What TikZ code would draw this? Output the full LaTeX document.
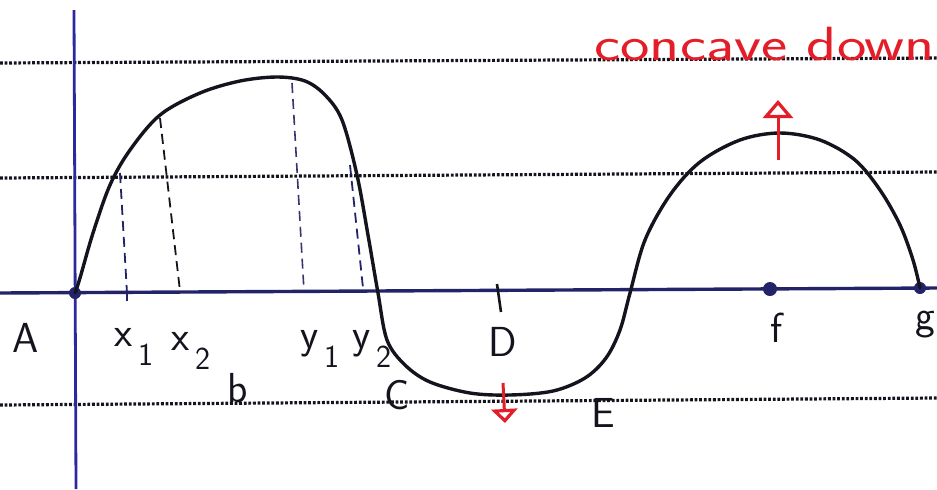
\documentclass[tikz,border=0pt]{standalone}
\usepackage{tikz}
\usetikzlibrary{arrows.meta}
\definecolor{ink}{RGB}{20,20,30}
\definecolor{navy}{RGB}{35,35,105}
\definecolor{axisblue}{RGB}{45,40,160}
\definecolor{penred}{RGB}{228,30,40}
\newcommand{\subidx}[2]{#1\raisebox{-0.45em}{\fontsize{16}{17}\selectfont\,#2}}

\begin{document}
\begin{tikzpicture}[x=0.5pt, y=-0.5pt,
  rule/.style={ink, line width=1.6pt, dash pattern=on 1.4pt off 0.9pt},
  curve/.style={ink, line width=1.7pt, line cap=round, line join=round},
  drop/.style={line width=0.9pt, dash pattern=on 5pt off 3pt},
  dot/.style={circle, fill=navy, inner sep=0pt, minimum size=6pt},
  lbl/.style={font=\sffamily\fontsize{21}{23}\selectfont, text=ink, inner sep=0pt},
  redarrow/.style={penred, line width=1.5pt}]
\useasboundingbox (0,0) rectangle (937,489);

\draw[rule] (0,63) -- (937,58);
\draw[rule] (0,178) -- (937,172);
\draw[rule] (0,405) -- (937,398);
\draw[navy, line width=1.7pt] (0,293) -- (937,288);
\draw[axisblue, line width=1.4pt] (74,10) -- (76,489);

\node[dot] (A) at (75,293) {};
\node[dot, minimum width=7pt, minimum height=5pt] (f) at (770,289) {};
\node[dot] (g) at (920,288) {};

\draw[curve] plot[smooth, tension=0.55] coordinates {(A.center) (80,278) (93,233) (110,185)
  (130,150) (160,115) (200,93) (240,81) (277,77) (305,81) (325,95) (342,120) (357,175)
  (368,235) (378,293) (387,340) (405,365) (430,382) (470,393) (510,395) (553,391)
  (585,378) (606,358) (620,330) (630,293) (645,240) (670,195) (700,162) (740,140)
  (780,133) (820,140) (855,160) (880,190) (900,225) (913,260) (g.center)};

\coordinate (x1top) at (120,173);
\coordinate (x1foot) at (127,293);
\coordinate (x2top) at (160,118);
\coordinate (x2foot) at (180,291);
\coordinate (y1top) at (292,83);
\coordinate (y1foot) at (304,291);
\coordinate (y2top) at (350,165);
\coordinate (y2foot) at (363,288);
\draw[drop, navy] (x1top) -- (x1foot);
\draw[drop, ink] (x2top) -- (x2foot);
\draw[drop, navy!80!gray, line width=0.8pt] (y1top) -- (y1foot);
\draw[drop, navy] (y2top) -- (y2foot);
\draw[navy, line width=1.2pt] (x1foot) -- ++(0,8);
\draw[ink, line width=1.3pt] (497,284) -- (501,312);

\node[lbl] (labA) at (26,338) {A};
\node[lbl] (labx1) at (134,347) {\subidx{x}{1}};
\node[lbl] (labx2) at (191,351) {\subidx{x}{2}};
\node[lbl] (labb) at (238,388) {b};
\node[lbl] (laby1) at (320,349) {\subidx{y}{1}};
\node[lbl] (laby2) at (372,349) {\subidx{y}{2}};
\node[lbl] (labC) at (397,395) {C};
\node[lbl] (labD) at (503,342) {D};
\node[lbl] (labE) at (603,413) {E};
\node[lbl] (labf) at (777,328) {f};
\node[lbl] (labg) at (925,325) {g};

\node[anchor=base west, inner sep=0pt, text=penred, font=\sffamily\fontsize{24}{26}\selectfont]
  (cd) at (594,60) {\scalebox{1.3}[1]{concave down}};

\coordinate (maxtop) at (778,160);
\coordinate (maxarr) at (778,100);
\coordinate (mintop) at (503,383);
\coordinate (minarr) at (505,423);
\draw[redarrow, -{Triangle[open, width=15pt, length=9pt, line width=1.6pt]}] (maxtop) -- (maxarr);
\draw[redarrow, -{Triangle[open, width=13pt, length=7pt, line width=1.6pt]}] (mintop) -- (minarr);
\end{tikzpicture}
\end{document}
